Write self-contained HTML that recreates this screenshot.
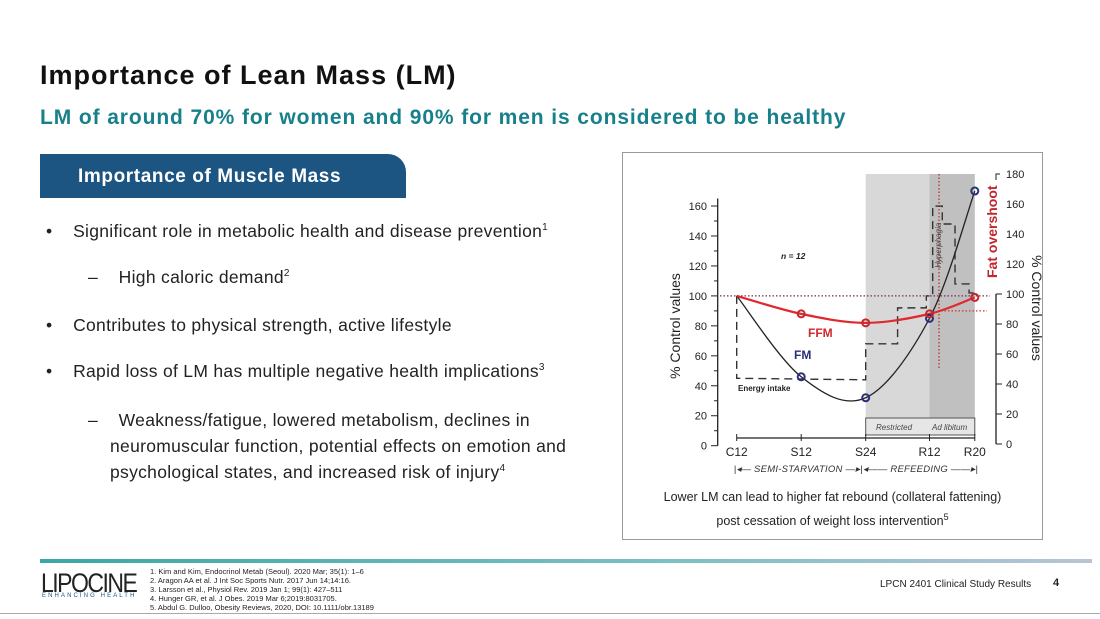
<!DOCTYPE html>
<html><head><meta charset="utf-8"><style>
body{margin:0;width:1100px;height:619px;background:#fff;position:relative;overflow:hidden;font-family:"Liberation Sans",sans-serif}
.a{position:absolute;white-space:nowrap}
.b{font-size:17.5px;color:#222;letter-spacing:0.3px}
sup{line-height:0}
.ref{font-size:7.5px;color:#222;line-height:9px}
</style></head><body>
<div class="a" style="left:40px;top:60px;font-size:27px;letter-spacing:1px;font-weight:bold;color:#111">Importance of Lean Mass (LM)</div>
<div class="a" style="left:40px;top:106px;font-size:21px;letter-spacing:0.9px;font-weight:bold;color:#17808a">LM of around 70% for women and 90% for men is considered to be healthy</div>
<div class="a" style="left:40px;top:154px;width:366px;height:44px;background:#1d5582;border-radius:0 18px 0 0;"></div>
<div class="a" style="left:78px;top:166px;font-size:19px;letter-spacing:0.6px;font-weight:bold;color:#fff">Importance of Muscle Mass</div>
<div class="a b" style="left:46px;top:221px">•&nbsp;&nbsp;&nbsp;&nbsp;Significant role in metabolic health and disease prevention<sup style="font-size:10px">1</sup></div>
<div class="a b" style="left:88px;top:267px">–&nbsp;&nbsp;&nbsp;&nbsp;High caloric demand<sup style="font-size:10px">2</sup></div>
<div class="a b" style="left:46px;top:315px">•&nbsp;&nbsp;&nbsp;&nbsp;Contributes to physical strength, active lifestyle</div>
<div class="a b" style="left:46px;top:361px">•&nbsp;&nbsp;&nbsp;&nbsp;Rapid loss of LM has multiple negative health implications<sup style="font-size:10px">3</sup></div>
<div class="a b" style="left:88px;top:407px;line-height:26px">–&nbsp;&nbsp;&nbsp;&nbsp;Weakness/fatigue, lowered metabolism, declines in</div>
<div class="a b" style="left:110px;top:433px;line-height:26px">neuromuscular function, potential effects on emotion and<br>psychological states, and increased risk of injury<sup style="font-size:10px">4</sup></div>

<div class="a" style="left:622px;top:152px;width:421px;height:388px;border:1.5px solid #999;box-sizing:border-box"></div>
<svg class="a" style="left:0;top:0" width="1100" height="619" id="ch"></svg>
<div class="a" style="left:622px;top:485px;width:421px;text-align:center;font-size:12.5px;line-height:24px;color:#222;white-space:normal">Lower LM can lead to higher fat rebound (collateral fattening)<br>post cessation of weight loss intervention<sup style="font-size:9px">5</sup></div>

<div class="a" style="left:40px;top:559px;width:1052px;height:4px;background:linear-gradient(90deg,#3aa7a6,#7cc0c4 60%,#b8c4d4)"></div>
<div class="a" style="left:41px;top:568px;font-size:23px;letter-spacing:-1.5px;color:#222;transform:scaleY(1.15);transform-origin:top left">LIPOCINE</div>
<div class="a" style="left:42px;top:593px;font-size:6px;letter-spacing:2.1px;color:#1d5582">ENHANCING HEALTH</div>
<div class="a ref" style="left:150px;top:567px">1. Kim and Kim, Endocrinol Metab (Seoul). 2020 Mar; 35(1): 1–6<br>2. Aragon AA et al. J Int Soc Sports Nutr. 2017 Jun 14;14:16.<br>3. Larsson et al., Physiol Rev. 2019 Jan 1; 99(1): 427–511<br>4. Hunger GR, et al. J Obes. 2019 Mar 6;2019:8031705.<br>5. Abdul G. Dulloo, Obesity Reviews, 2020, DOI: 10.1111/obr.13189</div>
<div class="a" style="left:880px;top:579px;font-size:10px;color:#222">LPCN 2401 Clinical Study Results</div>
<div class="a" style="left:1053px;top:577px;font-size:11px;font-weight:bold;color:#222">4</div>
<div class="a" style="left:0;top:613px;width:1100px;height:1px;background:#aaa"></div>

<script>
const categories=["C12","S12","S24","R12","R20"];
const catPos=[0,1,2,3,3.71];
const ffm=[100,88,82,88,99];
const fm=[100,46,32,85,170];
const intakeT=[0,2,2,2.5,2.5,2.95,2.95,3.05,3.05,3.2,3.2,3.4,3.4,3.62,3.62,3.71];
const intakeV=[45,44,68,68,92,92,100,100,160,160,148,148,108,108,102,102];
const leftTicks=[0,20,40,60,80,100,120,140,160];
const rightTicks=[0,20,40,60,80,100,120,140,160,180];
const NS="http://www.w3.org/2000/svg";
const svg=document.getElementById('ch');
function X(t){return t<=2?736.7+t*64.5:865.7+(t-2)*63.8;}
function Y(v){return 445.7-v*1.498;}
function YR(v){return 444-v*1.5;}
function mk(tag,a,p){const e=document.createElementNS(NS,tag);for(const k in a)e.setAttribute(k,a[k]);(p||svg).appendChild(e);return e;}
function txt(s,x,y,a){const e=mk('text',Object.assign({x:x,y:y,'font-family':'Liberation Sans, sans-serif','font-size':11,fill:'#222'},a));e.textContent=s;return e;}
let r=mk('rect',{x:X(2),y:174,width:X(3)-X(2),height:260,fill:'#d8d8d8'});

r=mk('rect',{x:X(3),y:174,width:X(3.71)-X(3),height:260,fill:'#c0c0c0'});

mk('rect',{x:X(2),y:418,width:X(3.71)-X(2),height:17,fill:'#e6e6e6',stroke:'#555','stroke-width':1});
txt('Restricted',876,430,{'font-size':8,'font-style':'italic',fill:'#444'});
txt('Ad libitum',932,430,{'font-size':8,'font-style':'italic',fill:'#444'});
mk('line',{x1:717.7,y1:Y(0),x2:717.7,y2:Y(165),stroke:'#222','stroke-width':1.3});
leftTicks.forEach(v=>{mk('line',{x1:711,y1:Y(v),x2:717.7,y2:Y(v),stroke:'#222'});txt(v,707,Y(v)+4,{'text-anchor':'end'});});
for(let v=10;v<165;v+=20)mk('line',{x1:714,y1:Y(v),x2:717.7,y2:Y(v),stroke:'#222'});
txt('% Control values',0,0,{'font-size':14,transform:'translate(680,326) rotate(-90)','text-anchor':'middle'});
mk('line',{x1:996,y1:YR(0),x2:996,y2:YR(100),stroke:'#222','stroke-width':1.3});
mk('path',{d:`M996 ${YR(176)} L996 ${YR(180)} L1000 ${YR(180)}`,stroke:'#222',fill:'none'});
rightTicks.forEach(v=>{if(v<=100)mk('line',{x1:996,y1:YR(v),x2:1002,y2:YR(v),stroke:'#222'});txt(v,1006,YR(v)+4);});
txt('% Control values',0,0,{'font-size':14,transform:'translate(1032,308) rotate(90)','text-anchor':'middle'});
const AX=438;
mk('line',{x1:X(0),y1:AX,x2:X(3.71),y2:AX,stroke:'#222','stroke-width':1.3});
categories.forEach((c,i)=>{mk('line',{x1:X(catPos[i]),y1:AX-4,x2:X(catPos[i]),y2:AX+3,stroke:'#222'});txt(c,X(catPos[i]),456,{'text-anchor':'middle','font-size':12});});
txt('|◂— SEMI-STARVATION —▸|◂—— REFEEDING ——▸|',X(0)-3,472,{'font-size':9.5,'font-style':'italic',fill:'#333',textLength:X(3.71)-X(0)+6});
mk('line',{x1:720,y1:Y(100),x2:990,y2:Y(100),stroke:'#7a2a5a','stroke-width':1.3,'stroke-dasharray':'1.5,2'});
mk('line',{x1:941,y1:Y(90),x2:987,y2:Y(90),stroke:'#d03030','stroke-width':1.3,'stroke-dasharray':'1.5,2'});
mk('line',{x1:939,y1:174,x2:939,y2:368,stroke:'#c03030','stroke-width':1.3,'stroke-dasharray':'1.5,2'});
txt('Fat overshoot',0,0,{'font-size':14,'font-weight':'bold',fill:'#c0282d',transform:'translate(997,278) rotate(-90)'});
txt('Hyperphagia',0,0,{'font-size':8,'font-style':'italic',fill:'#444',transform:'translate(941,268) rotate(-90)'});
txt('n = 12',781,259,{'font-size':8.5,'font-style':'italic','font-weight':'bold'});
let d=`M${X(0)} ${Y(100)} L${X(0)} ${Y(intakeV[0])}`;
intakeT.forEach((tt,i)=>{d+=` L${X(tt)} ${Y(intakeV[i])}`;});
let p=mk('path',{d:d,fill:'none',stroke:'#333','stroke-width':1.4,'stroke-dasharray':'8,5'});

txt('Energy intake',738,391,{'font-size':8,'font-weight':'bold'});
function curve(vals){const pts=vals.map((v,i)=>[X(catPos[i]),Y(v)]);let s=`M${pts[0][0]} ${pts[0][1]}`;
for(let i=0;i<pts.length-1;i++){const p0=pts[Math.max(i-1,0)],p1=pts[i],p2=pts[i+1],p3=pts[Math.min(i+2,pts.length-1)];
s+=` C${p1[0]+(p2[0]-p0[0])/6} ${p1[1]+(p2[1]-p0[1])/6} ${p2[0]-(p3[0]-p1[0])/6} ${p2[1]-(p3[1]-p1[1])/6} ${p2[0]} ${p2[1]}`;}return s;}
p=mk('path',{d:curve(fm),fill:'none',stroke:'#222','stroke-width':1.3});

p=mk('path',{d:curve(ffm),fill:'none',stroke:'#e0282d','stroke-width':2.2});

fm.forEach((v,i)=>{if(i==0)return;const c=mk('circle',{cx:X(catPos[i]),cy:Y(v),r:3.5,fill:'none',stroke:'#2a2f7a','stroke-width':2});
});
ffm.forEach((v,i)=>{if(i==0)return;const c=mk('circle',{cx:X(catPos[i]),cy:Y(v),r:3.5,fill:'none',stroke:'#c0282d','stroke-width':2});
});
txt('FFM',808,337,{'font-size':12,'font-weight':'bold',fill:'#d0282d'});
txt('FM',794,359,{'font-size':12,'font-weight':'bold',fill:'#2a2f7a'});
</script>
</body></html>
